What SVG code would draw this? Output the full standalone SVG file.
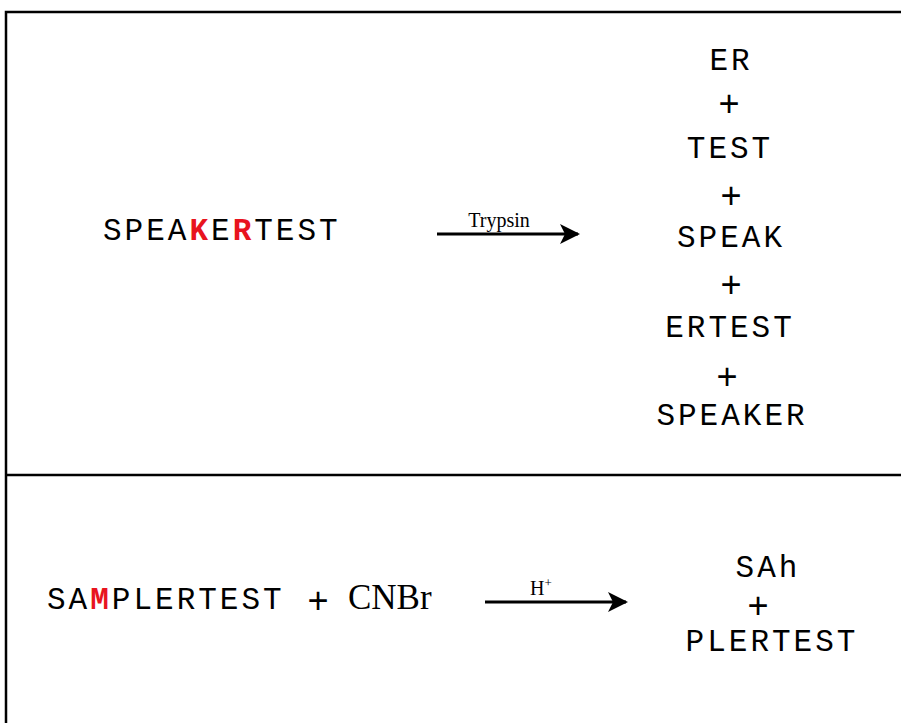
<svg xmlns="http://www.w3.org/2000/svg" width="901" height="723" viewBox="0 0 901 723">
<style>
.seq{font-family:"Liberation Mono","Courier New",monospace;font-size:31px;letter-spacing:3px;fill:#000}
.pl{font-family:"Liberation Mono","Courier New",monospace;font-size:36px;fill:#000}
.hl{fill:#e8141e;font-weight:bold}
.tm{font-family:"Liberation Serif","Times New Roman",serif;fill:#000}
.frame{stroke:#000;stroke-width:2.5;fill:none}
.arr{stroke:#000;stroke-width:3;fill:none}
</style>
<defs>
<marker id="ah" viewBox="0 0 20 20" refX="18" refY="10" markerWidth="20" markerHeight="20" markerUnits="userSpaceOnUse" orient="auto">
<path d="M0,0 L20,10 L0,20 L5,10 Z" fill="#000"/>
</marker>
</defs>
<rect width="901" height="723" fill="#fff"/>
<g id="frame">
<path class="frame" d="M6,723 V12 H901"/>
<path class="frame" d="M6,475 H901"/>
</g>
<g id="reactant1"><text class="seq" x="103" y="240">SPEA<tspan class="hl">K</tspan>E<tspan class="hl">R</tspan>TEST</text></g>
<g id="products1">
<text class="seq" x="731" y="70" text-anchor="middle">ER</text>
<text class="pl" x="729" y="116" text-anchor="middle">+</text>
<text class="seq" x="730" y="158" text-anchor="middle">TEST</text>
<text class="pl" x="731" y="208" text-anchor="middle">+</text>
<text class="seq" x="731" y="247" text-anchor="middle">SPEAK</text>
<text class="pl" x="731" y="297" text-anchor="middle">+</text>
<text class="seq" x="730" y="337" text-anchor="middle">ERTEST</text>
<text class="pl" x="727" y="389" text-anchor="middle">+</text>
<text class="seq" x="732" y="425" text-anchor="middle">SPEAKER</text>
</g>
<g id="reactant2">
<text class="seq" x="47" y="609">SA<tspan class="hl">M</tspan>PLERTEST</text>
<text class="pl" x="318" y="613" text-anchor="middle">+</text>
<text class="tm" x="348" y="609" font-size="35">CNBr</text>
</g>
<g id="products2">
<text class="seq" x="768" y="577" text-anchor="middle">SAh</text>
<text class="pl" x="758" y="618" text-anchor="middle" font-size="28">+</text>
<text class="seq" x="772" y="651" text-anchor="middle">PLERTEST</text>
</g>
<g id="connectors">
<line class="arr" x1="437" y1="234" x2="578" y2="234" marker-end="url(#ah)"/>
<text class="tm" x="499" y="227" font-size="20" text-anchor="middle">Trypsin</text>
<line class="arr" x1="485" y1="602" x2="626" y2="602" marker-end="url(#ah)"/>
<text class="tm" x="541" y="595" font-size="20" text-anchor="middle">H<tspan font-size="13" dy="-8">+</tspan></text>
</g>
</svg>
